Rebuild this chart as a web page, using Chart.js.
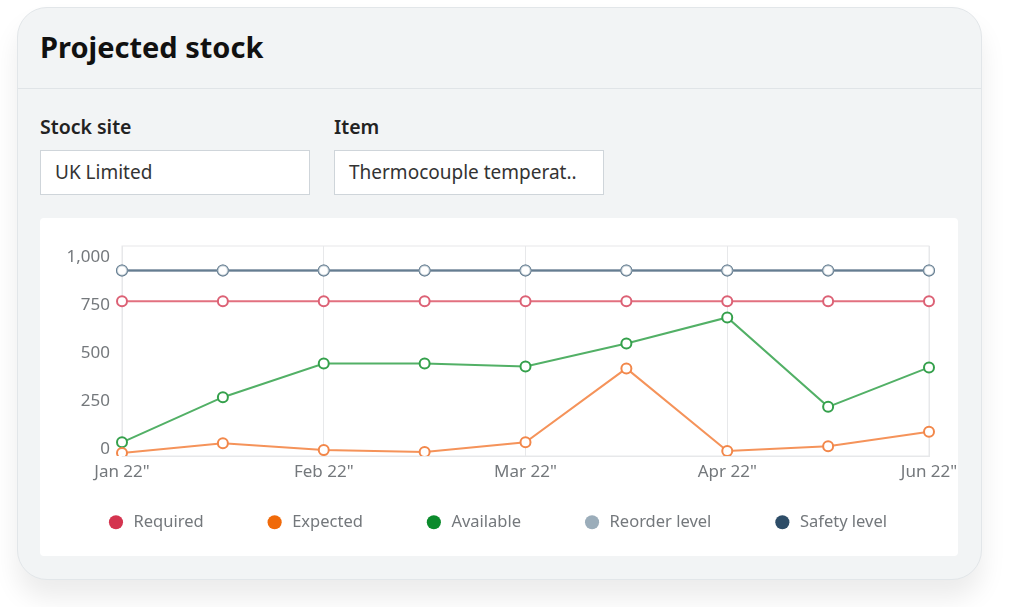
<!DOCTYPE html>
<html lang="en">
<head>
<meta charset="utf-8">
<title>Projected stock</title>
<script src="https://cdn.jsdelivr.net/npm/chart.js@4/dist/chart.umd.min.js"></script>
<style>
  html, body {
    margin: 0;
    padding: 0;
    width: 1024px;
    height: 607px;
    background: #ffffff;
    font-family: "Noto Sans", sans-serif;
    overflow: hidden;
  }
  .card {
    position: absolute;
    left: 17px;
    top: 7px;
    width: 963px;
    height: 571px;
    background: #f2f4f5;
    border: 1px solid #e2e6e9;
    border-radius: 30px;
    box-shadow: 0 18px 26px rgba(0, 0, 0, 0.08);
  }
  .card-header {
    position: absolute;
    left: 0;
    top: 0;
    right: 0;
    height: 80px;
    border-bottom: 1px solid #e0e4e7;
  }
  .card-header h1 {
    position: absolute;
    left: 22px;
    top: 24px;
    margin: 0;
    font-size: 29px;
    font-weight: 700;
    color: #111;
    line-height: 1;
  }
  .field-label {
    position: absolute;
    top: 106px;
    font-size: 19.5px;
    font-weight: 600;
    color: #222;
    line-height: 1.3;
  }
  .field-input {
    position: absolute;
    top: 142px;
    width: 268px;
    height: 43px;
    background: #fff;
    border: 1px solid #cfd5da;
    box-sizing: content-box;
    font-size: 19px;
    color: #333;
    line-height: 43px;
    padding: 0;
    text-indent: 14px;
    white-space: nowrap;
    overflow: hidden;
  }
  .chart-panel {
    position: absolute;
    left: 22px;
    top: 210px;
    width: 918px;
    height: 338px;
    background: #fff;
    border-radius: 4px;
  }
</style>
</head>
<body>
<div class="card">
  <div class="card-header"><h1>Projected stock</h1></div>
  <div class="field-label" style="left:22px">Stock site</div>
  <div class="field-label" style="left:316px">Item</div>
  <div class="field-input" style="left:22px">UK Limited</div>
  <div class="field-input" style="left:316px">Thermocouple temperat..</div>
  <div class="chart-panel"><canvas id="graficoEstoque"></canvas></div>
</div>
<script>
const meses = ['Jan 22"', "", 'Feb 22"', "", 'Mar 22"', "", 'Apr 22"', "", 'Jun 22"'];
const ticksY = [0, 250, 500, 750, 1000];

const required = [770, 770, 770, 770, 770, 770, 770, 770, 770];
const expected = [-20, 30, -5, -15, 35, 420, -10, 15, 90];
const available = [35, 270, 445, 445, 430, 550, 685, 220, 425];
const reorderLevel = [930, 930, 930, 930, 930, 930, 930, 930, 930];
const safetyLevel = [930, 930, 930, 930, 930, 930, 930, 930, 930];

const nomes = ["Required", "Expected", "Available", "Reorder level", "Safety level"];
const coresLegenda = ["#d4344f", "#f06a0a", "#0b8b2c", "#9badba", "#2e4d68"];

const corGrade = "#e7e8ea";
const corTexto = "#74787c";
const paddingLegenda = 66;

function serie(label, data, linha, ponto) {
  return {
    label,
    data,
    borderColor: linha,
    backgroundColor: linha,
    borderWidth: 2,
    pointRadius: 5,
    pointHoverRadius: 5,
    pointBorderWidth: 2,
    pointBorderColor: ponto,
    pointBackgroundColor: "#fff",
    tension: 0,
  };
}

// moldura da area do grafico
const moldura = {
  id: "moldura",
  beforeDatasetsDraw(chart) {
    const { ctx, chartArea: a } = chart;
    ctx.save();
    ctx.strokeStyle = corGrade;
    ctx.lineWidth = 1;
    ctx.strokeRect(a.left, a.top, a.right - a.left, a.bottom - a.top);
    ctx.restore();
  },
};

// legenda numa linha so, baixa, com espaco largo entre itens
const ajusteLegenda = {
  id: "ajusteLegenda",
  beforeInit(chart) {
    const fitOriginal = chart.legend.fit;
    chart.legend.fit = function () {
      this.maxWidth = chart.width;
      fitOriginal.call(this);
      this.height = 54;
    };
  },
  afterLayout(chart) {
    const lg = chart.legend;
    const topo = chart.chartArea.bottom + 58 - paddingLegenda;
    lg.top = topo;
    lg.bottom = chart.height;
    lg.height = chart.height - topo;
    lg.left = 0;
    lg.right = chart.width;
    lg.width = chart.width;
  },
};

const ctx = document.getElementById("graficoEstoque").getContext("2d");

new Chart(ctx, {
  type: "line",
  data: {
    labels: meses,
    datasets: [
      serie(nomes[0], required, "#e2707f", "#dc6175"),
      serie(nomes[1], expected, "#f5935a", "#f2874a"),
      serie(nomes[2], available, "#52b066", "#34a04b"),
      serie(nomes[3], reorderLevel, "rgba(155, 173, 186, 0.5)", "rgba(155, 173, 186, 0.5)"),
      serie(nomes[4], safetyLevel, "#2e4d68", "#2e4d68"),
    ],
  },
  options: {
    responsive: true,
    maintainAspectRatio: false,
    animation: false,
    layout: {
      padding: { top: 28, right: 29, left: 0, bottom: 16 },
    },
    plugins: {
      tooltip: { enabled: false },
      legend: {
        position: "bottom",
        labels: {
          usePointStyle: true,
          boxWidth: 10,
          boxHeight: 10,
          padding: paddingLegenda,
          color: corTexto,
          font: { family: "Noto Sans", size: 16.5 },
          generateLabels: function (chart) {
            return chart.data.datasets.map((ds, i) => ({
              text: " " + ds.label,
              fillStyle: coresLegenda[i],
              strokeStyle: coresLegenda[i],
              fontColor: corTexto,
              lineWidth: 0,
              pointStyle: "circle",
              hidden: false,
              datasetIndex: i,
            }));
          },
        },
      },
    },
    scales: {
      x: {
        offset: false,
        grid: {
          drawTicks: false,
          color: function (c) {
            return meses[c.index] ? corGrade : "rgba(0,0,0,0)";
          },
        },
        border: { color: corGrade },
        ticks: {
          autoSkip: false,
          maxRotation: 0,
          padding: 6,
          color: corTexto,
          font: { family: "Noto Sans", size: 17 },
        },
        afterFit: function (scale) {
          scale.height = 30;
          scale.paddingLeft = 0;
          scale.paddingRight = 0;
        },
      },
      y: {
        min: -36,
        max: 1057,
        grid: { display: false, drawTicks: false },
        border: { display: false },
        afterBuildTicks: function (scale) {
          scale.ticks = ticksY.map((v) => ({ value: v }));
        },
        afterFit: function (scale) {
          scale.width = 82;
        },
        ticks: {
          padding: 12,
          color: corTexto,
          font: { family: "Noto Sans", size: 17 },
          callback: function (value) {
            return Number(value).toLocaleString("en-US");
          },
        },
      },
    },
  },
  plugins: [moldura, ajusteLegenda],
});
</script>
</body>
</html>
